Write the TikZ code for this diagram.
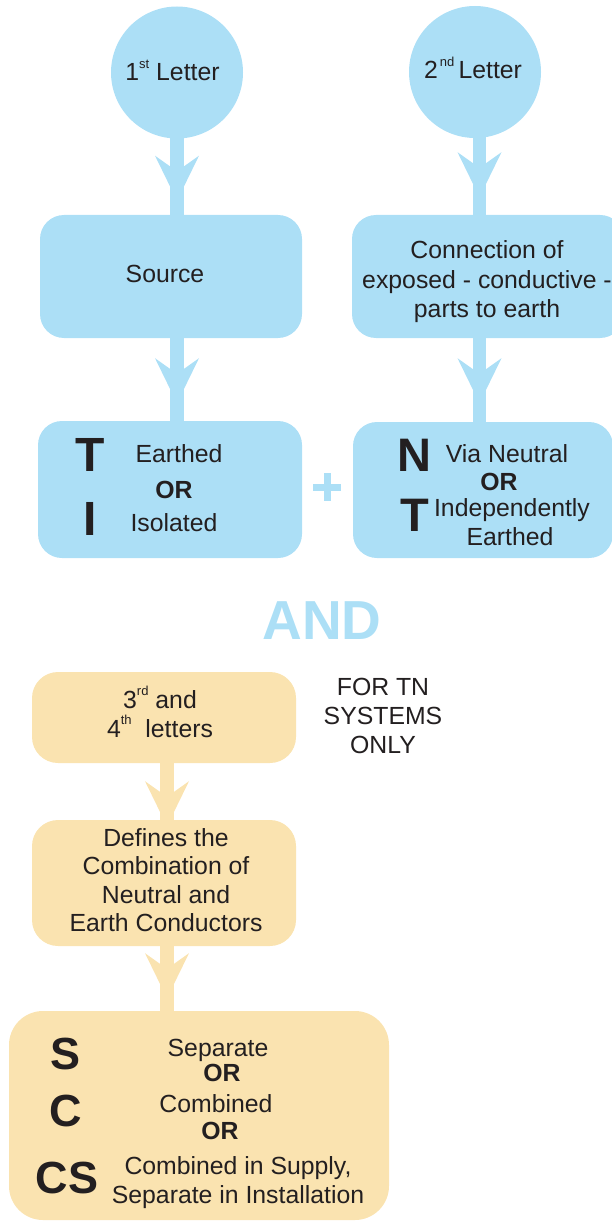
\documentclass[tikz,border=0pt]{standalone}
\usepackage{fontspec}
\setmainfont{Liberation Sans}
\usetikzlibrary{decorations.markings}
\definecolor{bl}{HTML}{ACDFF6}
\definecolor{og}{HTML}{FAE3B0}
\definecolor{tx}{HTML}{231F20}
\newcommand\mysup[1]{\smash{\raisebox{.5em}{\fontsize{13}{13}\selectfont #1}}}
\begin{document}
\begin{tikzpicture}[x=1pt,y=-1pt,
  txt/.style={font=\fontsize{24.8}{29}\selectfont, text=tx, inner sep=0pt, align=center},
  one/.style={font=\fontsize{24.8}{29}\selectfont, text=tx, inner sep=0pt, text height=17.7pt, text depth=0pt},
  orw/.style={one, font=\fontsize{24.8}{29}\selectfont\bfseries},
  big/.style={font=\fontsize{#1}{#1}\selectfont\bfseries, text=tx, inner sep=0pt, text height=0.716*#1 pt, text depth=0pt},
  bcirc/.style={circle, fill=bl, minimum size=132pt, inner sep=0pt},
  bbox/.style 2 args={rectangle, fill=bl, rounded corners=24pt, minimum width=#1pt, minimum height=#2pt, inner sep=0pt},
  obox/.style 2 args={rectangle, fill=og, rounded corners=26pt, minimum width=#1pt, minimum height=#2pt, inner sep=0pt},
  conn/.style 2 args={line width=13.5pt, draw=#1, postaction={decorate},
    decoration={markings, mark=at position #2 with {\fill[#1] (0pt,22pt) -- (11pt,6.5pt) -- (11pt,-6.5pt) -- (0pt,-22pt) -- (45pt,0pt) -- cycle;}}}
]
\useasboundingbox (0,0) rectangle (612,1222);

% top blue part
\node[bcirc] (c1) at (177,72.5) {};
\node[one] (c1t) at (172.5,72) {1\mysup{st} Letter};
\node[bcirc] (c2) at (475,72) {};
\node[one] (c2t) at (473,70) {2\mysup{\,nd}\,Letter};

\node[bbox={262}{123}] (src) at (171,276.5) {};
\node[one] (srct) at (165,274) {Source};
\node[bbox={272}{123}] (cb) at (488,276.5) {};
\node[txt, font=\fontsize{24.8}{29.5}\selectfont] (cbt) at (487,282) {Connection of\\exposed - conductive -\\parts to earth};

\node[bbox={264}{137}] (tb) at (170,489.5) {};
\node[big=48] (tT) at (90,454) {T};
\node[big=48] (tI) at (90,518) {I};
\node[one] (tE) at (179,454) {Earthed};
\node[orw] (tO) at (174,490) {OR};
\node[one] (tIs) at (174,523) {Isolated};

\node[bbox={260}{136}] (nb) at (483,490) {};
\node[big=47] (nN) at (414,455) {N};
\node[big=47] (nT) at (415,515) {T};
\node[one] (nV) at (507,454) {Via Neutral};
\node[orw] (nO) at (499,482) {OR};
\node[one] (nI) at (512,508) {Independently};
\node[one] (nE) at (510,537) {Earthed};

\draw[conn={bl}{21pt}] ([yshift=4pt]c1.south) -- ([yshift=-4pt]c1.south |- src.north);
\draw[conn={bl}{24pt}] ([yshift=4pt]c1.south |- src.south) -- ([yshift=-4pt]c1.south |- tb.north);
\draw[conn={bl}{18pt}] ([xshift=4.5pt,yshift=4pt]c2.south) -- ([xshift=4.5pt,yshift=-4pt]c2.south |- cb.north);
\draw[conn={bl}{24pt}] ([xshift=4.5pt,yshift=4pt]c2.south |- cb.south) -- ([xshift=4.5pt,yshift=-4pt]c2.south |- nb.north);

% plus sign
\fill[bl] (313,484) rectangle (341,491);
\fill[bl] (323.5,473) rectangle (330.5,501);

% AND
\node[font=\fontsize{55}{55}\selectfont\bfseries, text=bl, inner sep=0pt, text height=39.4pt, text depth=0pt] (and) at (322,620) {AND};

% orange part
\node[obox={264}{91}] (l34) at (164,717.5) {};
\node[txt] (l34t) at (160,714) {3\mysup{rd} and\\4\mysup{th}\ \ letters};
\node[txt] (fortn) at (383,716) {FOR TN\\SYSTEMS\\ONLY};

\node[obox={264}{126}] (df) at (164,883) {};
\node[txt, font=\fontsize{24.8}{28.4}\selectfont] (dft) at (166,880) {Defines the\\Combination of\\Neutral and\\Earth Conductors};

\node[obox={380}{209}, rounded corners=34pt] (scs) at (199,1115.5) {};
\node[big=45] (sS) at (66,1053) {S};
\node[big=45] (sC) at (66,1110) {C};
\node[big=45] (sCS) at (67,1177) {CS};
\node[one] (sSep) at (218,1048) {Separate};
\node[orw] (sO1) at (222,1073) {OR};
\node[one] (sCom) at (216,1104) {Combined};
\node[orw] (sO2) at (220,1131) {OR};
\node[txt] (sCIS) at (238,1183) {Combined in Supply,\\Separate in Installation};

\draw[conn={og}{22pt}] ([xshift=3pt,yshift=4pt]l34.south) -- ([xshift=3pt,yshift=-4pt]l34.south |- df.north);
\draw[conn={og}{11pt}] ([xshift=3pt,yshift=4pt]df.south) -- ([xshift=3pt,yshift=-4pt]df.south |- scs.north);
\end{tikzpicture}
\end{document}
